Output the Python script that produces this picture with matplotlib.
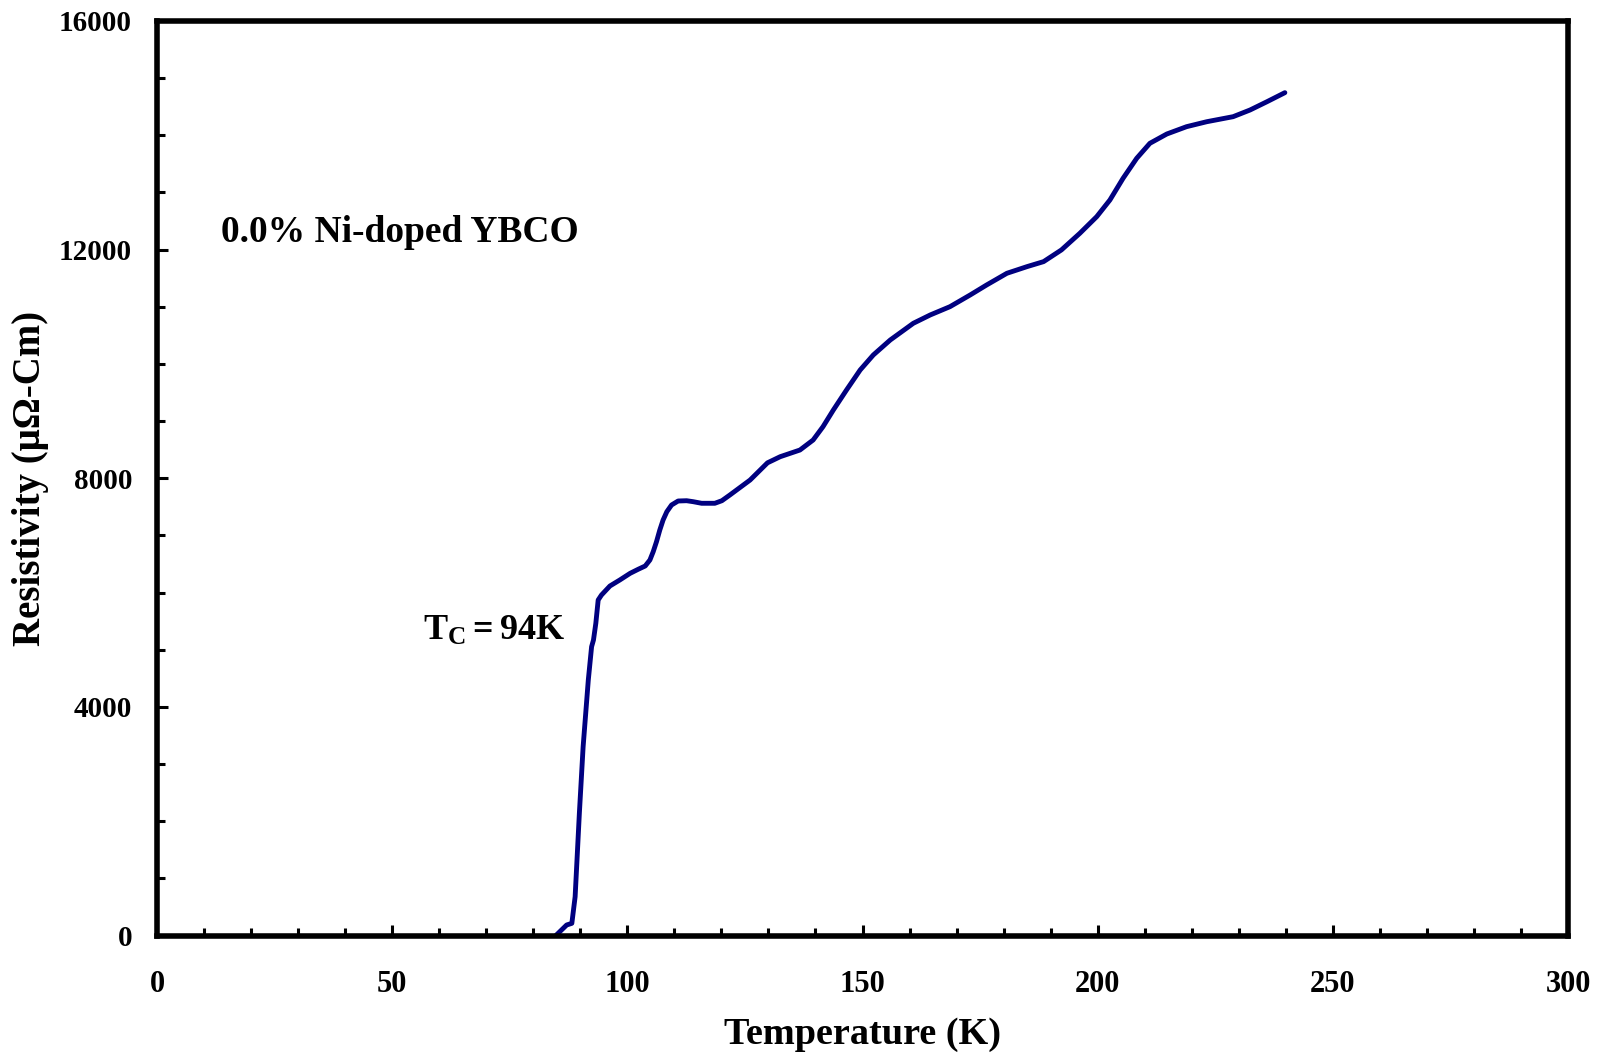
import matplotlib
matplotlib.use("Agg")
import matplotlib.pyplot as plt
from matplotlib.ticker import MultipleLocator

# ---- data ----
temperature_K = [84.8, 87.1, 88.2, 88.9, 89.8, 90.6, 91.7, 92.4, 92.8, 93.3,
                 93.8, 94.5, 96.3, 98.4, 100.6, 102.3, 103.8, 104.8, 105.5, 106.2,
                 106.9, 107.6, 108.4, 109.4, 110.8, 112.6, 114.0, 115.8, 118.6, 120.1,
                 121.8, 124.0, 126.1, 129.8, 132.5, 136.7, 139.5, 141.6, 143.8, 146.6,
                 149.5, 152.3, 155.9, 160.8, 164.4, 168.6, 172.9, 176.4, 180.7, 185.0,
                 188.5, 192.3, 196.2, 199.8, 202.6, 205.4, 208.3, 211.1, 214.7, 218.9,
                 223.2, 228.8, 232.4, 236.0, 239.8]
resistivity = [0, 184, 213, 679, 2138, 3303, 4470, 5053, 5170, 5462,
               5870, 5957, 6115, 6220, 6337, 6407, 6465, 6570, 6715, 6890,
               7094, 7269, 7415, 7532, 7602, 7607, 7590, 7562, 7562, 7607,
               7707, 7841, 7969, 8270, 8377, 8494, 8669, 8902, 9194, 9544,
               9894, 10157, 10419, 10711, 10857, 11002, 11207, 11382, 11586, 11703,
               11790, 11995, 12285, 12577, 12868, 13248, 13598, 13860, 14023, 14151,
               14238, 14326, 14443, 14588, 14746]

x_major_ticks = [0, 50, 100, 150, 200, 250, 300]
y_major_ticks = [0, 4000, 8000, 12000, 16000]

sample_label = "0.0% Ni-doped YBCO"
tc_label = r"$T_C = 94K$"
x_title = "Temperature (K)"
y_title = "Resistivity (μΩ-Cm)"

# ---- style ----
plt.rcParams["font.family"] = ["Liberation Serif", "DejaVu Serif"]
plt.rcParams["font.weight"] = "bold"
plt.rcParams["mathtext.fontset"] = "custom"
plt.rcParams["mathtext.rm"] = "Liberation Serif:bold"
plt.rcParams["mathtext.it"] = "Liberation Serif:bold"
plt.rcParams["mathtext.bf"] = "Liberation Serif:bold"
plt.rcParams["mathtext.default"] = "rm"

fig = plt.figure(figsize=(15.98, 10.62), dpi=100)
ax = fig.add_axes([0.09825, 0.11911, 0.88298, 0.86112])

ax.plot(temperature_K, resistivity, color="#000080", linewidth=3.5,
        solid_joinstyle="round", solid_capstyle="round")

ax.set_xlim(0, 300)
ax.set_ylim(0, 16000)
ax.set_xticks(x_major_ticks)
ax.set_yticks(y_major_ticks)
ax.xaxis.set_minor_locator(MultipleLocator(10))
ax.yaxis.set_minor_locator(MultipleLocator(1000))

for s in ax.spines.values():
    s.set_linewidth(4)
    s.set_color("black")

ax.tick_params(axis="both", which="both", direction="in", top=False, right=False,
               width=2.2, color="black")
ax.tick_params(axis="both", which="major", length=8)
ax.tick_params(axis="both", which="minor", length=5.5)
ax.tick_params(axis="x", which="major", pad=25, labelsize=22)
ax.tick_params(axis="y", which="major", pad=18, labelsize=21)
for lab in ax.get_xticklabels() + ax.get_yticklabels():
    lab.set_fontweight("bold")

ax.set_xlabel(x_title, fontsize=27.5, fontweight="bold", labelpad=13)
ax.set_ylabel(y_title, fontsize=28, fontweight="bold", labelpad=7)

ax.text(13.6, 12142, sample_label, fontsize=27, fontweight="bold",
        ha="left", va="baseline")
ax.text(56.6, 5170, tc_label, fontsize=26, ha="left", va="baseline")

fig.savefig("out.png", dpi=100, facecolor="white")
